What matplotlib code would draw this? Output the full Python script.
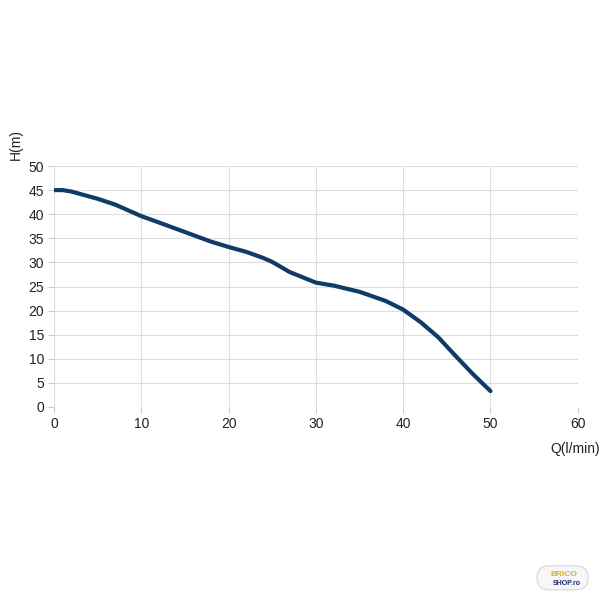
import matplotlib.pyplot as plt
from matplotlib.patches import FancyBboxPatch

# Courbe Q-H
q = [0, 1, 2, 3, 5, 7, 10, 12, 15, 18, 20, 22, 24, 25, 27, 30, 32, 35, 38, 40, 42, 44, 46, 48, 50]
h = [45.0, 45.0, 44.7, 44.2, 43.2, 42.0, 39.6, 38.3, 36.3, 34.3, 33.2, 32.2, 30.9, 30.1, 28.0, 25.8, 25.2, 23.9, 22.0, 20.2, 17.6, 14.5, 10.6, 6.8, 3.3]

x_ticks = [0, 10, 20, 30, 40, 50, 60]
y_ticks = [0, 5, 10, 15, 20, 25, 30, 35, 40, 45, 50]

plt.rcParams['font.family'] = ['Liberation Sans', 'DejaVu Sans']

fig = plt.figure(figsize=(6, 6), dpi=100)
ax = fig.add_axes([0.09, 0.3217, 0.873, 0.4016])

ax.plot(q, h, color='#0f3b68', linewidth=3.0, solid_capstyle='round')

ax.set_xlim(0, 60)
ax.set_ylim(0, 50)
ax.set_xticks(x_ticks)
ax.set_yticks(y_ticks)
ax.grid(True, color='#dddddd', linewidth=0.8)
ax.set_axisbelow(True)
for s in ax.spines.values():
    s.set_visible(False)
ax.tick_params(axis='both', length=4, color='#cccccc', labelsize=10, labelcolor='#222222')
ax.tick_params(axis='y', pad=3)
ax.tick_params(axis='x', pad=3)

fig.text(0.027, 0.733, 'H(m)', rotation=90, fontsize=10, color='#222222', ha='center', va='bottom')
fig.text(0.958, 0.252, 'Q(l/min)', fontsize=10, color='#222222', ha='center', va='center')

# petit logo en bas a droite
logo = FancyBboxPatch((0.895, 0.017), 0.085, 0.04, boxstyle='round,pad=0.0,rounding_size=0.02',
                      transform=fig.transFigure, facecolor='#f7f7f7', edgecolor='#dddddd', linewidth=1)
fig.patches.append(logo)
fig.text(0.94, 0.043, 'BRICO', fontsize=6, fontweight='bold', color='#e0b000', ha='center', va='center')
fig.text(0.945, 0.028, 'SHOP.ro', fontsize=5, fontweight='bold', color='#1a2a6c', ha='center', va='center')

fig.savefig('out.png', dpi=100)
